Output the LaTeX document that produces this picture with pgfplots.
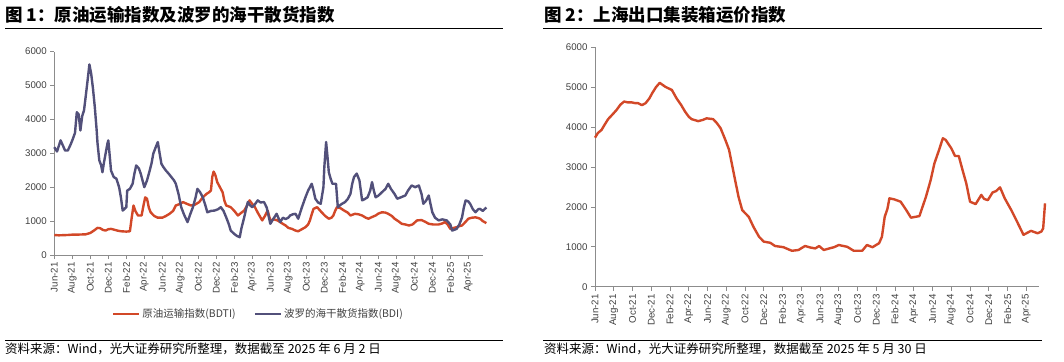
\documentclass[border=0pt]{standalone}
\usepackage{pgfplots}
\pgfplotsset{compat=1.18}
\usepackage{fontspec}
\setmainfont{Liberation Sans}
\newfontfamily\cjk{Noto Sans CJK SC}
\definecolor{bdti}{RGB}{210,72,40}
\definecolor{bdi}{RGB}{82,80,122}
\definecolor{axisgray}{RGB}{140,140,140}
\definecolor{txt}{RGB}{64,64,64}
\pgfplotsset{
  common/.style={
    scale only axis, anchor=south west,
    xmin=0, ymin=0, ymax=6000,
    axis lines=left,
    axis line style={-, draw=axisgray, line width=0.9pt},
    tick style={draw=axisgray, line width=0.8pt},
    tick align=outside, major tick length=4pt,
    ytick={0,1000,...,6000},
    xtick={0,2,...,46},
    xticklabels={Jun-21,Aug-21,Oct-21,Dec-21,Feb-22,Apr-22,Jun-22,Aug-22,Oct-22,Dec-22,Feb-23,Apr-23,Jun-23,Aug-23,Oct-23,Dec-23,Feb-24,Apr-24,Jun-24,Aug-24,Oct-24,Dec-24,Feb-25,Apr-25},
    xticklabel style={rotate=90, anchor=east, font=\fontsize{9.7}{10}\selectfont, text=txt},
    yticklabel style={font=\fontsize{9.7}{10}\selectfont, text=txt},
    /pgf/number format/1000 sep={},
    /pgf/number format/assume math mode=true,
    enlargelimits=false,
    clip=false,
  }
}
\begin{document}
\begin{tikzpicture}[x=1pt,y=1pt]
\useasboundingbox (0,0) rectangle (1064,361);
% titles and rules
\node[anchor=west, inner sep=0] at (5,346) {\cjk\bfseries\fontsize{17.5}{19}\selectfont 图 1：原油运输指数及波罗的海干散货指数};
\draw[line width=1pt] (5,332.7) -- (503,332.7);
\node[anchor=west, inner sep=0] at (544,346) {\cjk\bfseries\fontsize{17.5}{19}\selectfont 图 2：上海出口集装箱运价指数};
\draw[line width=1pt] (543,332.7) -- (1042,332.7);
\draw[line width=0.9pt] (5,21) -- (503,21);
\draw[line width=0.9pt] (543,20.3) -- (1042,20.3);
\node[anchor=west, inner sep=0] at (5,12.5) {\cjk\fontsize{12.5}{14}\selectfont 资料来源：Wind，光大证券研究所整理，数据截至 2025 年 6 月 2 日};
\node[anchor=west, inner sep=0] at (544,12.5) {\cjk\fontsize{12.5}{14}\selectfont 资料来源：Wind，光大证券研究所整理，数据截至 2025 年 5 月 30 日};

\begin{axis}[common,
  at={(54.3pt,106pt)}, width=428.7pt, height=203.5pt, xmax=47.63,
  legend columns=2,
  legend style={at={(0.476,-0.29)}, anchor=center, draw=none, fill=none,
    font={\cjk\fontsize{10.5}{12}\selectfont}, text=txt,
    /tikz/every even column/.append style={column sep=16pt}},
  legend image code/.code={\draw[#1] (0pt,0pt)--(26pt,0pt);},
]
\addplot[bdti, line width=2.4pt, line join=round] coordinates {
(0,590) (0.5,580) (1,585) (1.5,590) (2,600) (2.5,600) (3,605) (3.5,610) (4,650) (4.4,720) (4.8,800) (5.1,790) (5.4,740) (5.7,720) (6,760) (6.3,770) (6.6,750) (7,720) (7.4,700) (8,690) (8.4,700) (8.6,1100) (8.8,1460) (9,1300) (9.3,1165) (9.7,1165) (9.9,1450) (10.1,1700) (10.3,1660) (10.5,1400) (10.7,1260) (11.1,1150) (11.5,1100) (12,1100) (12.4,1150) (12.8,1215) (13.2,1300) (13.5,1460) (13.9,1500) (14.3,1560) (14.8,1500) (15.2,1460) (15.6,1480) (16.1,1560) (16.5,1700) (16.9,1800) (17.2,1850) (17.4,1900) (17.55,2300) (17.7,2460) (17.9,2350) (18.1,2150) (18.4,2000) (18.7,1850) (18.9,1600) (19.1,1460) (19.6,1410) (20,1300) (20.4,1165) (20.8,1250) (21.1,1310) (21.4,1450) (21.7,1610) (22,1500) (22.2,1460) (22.6,1250) (23.1,1020) (23.4,1150) (23.7,1310) (24,1020) (24.4,1050) (24.8,1020) (25.2,950) (25.7,870) (26,800) (26.4,770) (26.8,720) (27.1,700) (27.5,760) (27.9,820) (28.2,900) (28.4,1020) (28.6,1200) (28.8,1360) (29.2,1410) (29.4,1350) (29.7,1260) (30.1,1150) (30.5,1070) (30.8,1100) (31,1165) (31.2,1300) (31.4,1410) (31.8,1380) (32.2,1310) (32.6,1250) (32.9,1165) (33.4,1215) (33.8,1200) (34.2,1165) (34.6,1100) (34.9,1070) (35.3,1120) (35.7,1165) (36,1220) (36.4,1260) (36.8,1250) (37.1,1215) (37.5,1150) (37.8,1070) (38.2,1000) (38.6,920) (39,900) (39.4,870) (39.8,900) (40.3,1020) (40.8,1030) (41.2,980) (41.6,920) (42.1,900) (42.7,900) (43.1,930) (43.4,970) (43.7,900) (44,770) (44.4,800) (44.7,820) (45,850) (45.3,870) (45.7,980) (46,1070) (46.4,1100) (46.8,1110) (47.1,1090) (47.3,1070) (47.6,1000) (48,940)
};
\addlegendentry{原油运输指数(BDTI)}
\addplot[bdi, line width=2.4pt, line join=round] coordinates {
(0,3180) (0.3,3050) (0.7,3380) (1,3200) (1.2,3080) (1.5,3080) (1.8,3250) (2,3380) (2.3,3600) (2.5,4210) (2.7,4150) (2.9,3670) (3.1,4100) (3.3,4260) (3.5,4700) (3.7,5150) (3.9,5620) (4.1,5340) (4.3,4900) (4.5,4360) (4.7,3700) (4.8,3300) (5,2790) (5.2,2650) (5.35,2440) (5.5,2700) (5.7,2990) (5.9,3280) (6,3380) (6.15,2950) (6.3,2490) (6.6,2300) (6.9,2250) (7.2,2000) (7.4,1700) (7.6,1310) (8,1410) (8.1,1900) (8.4,1950) (8.7,2100) (8.9,2400) (9.1,2640) (9.4,2550) (9.6,2400) (10,2000) (10.3,2200) (10.6,2490) (10.8,2700) (11,2990) (11.3,3200) (11.5,3330) (11.7,3000) (11.9,2690) (12.1,2600) (12.4,2490) (12.7,2400) (13,2300) (13.3,2200) (13.5,2100) (13.8,1800) (14.1,1410) (14.4,1200) (14.8,970) (15.1,1200) (15.4,1410) (15.7,1700) (15.9,1950) (16.2,1850) (16.5,1700) (16.8,1450) (17,1260) (17.4,1300) (17.8,1310) (18.2,1350) (18.5,1410) (18.8,1300) (19.1,1110) (19.4,900) (19.6,720) (20,620) (20.3,560) (20.6,525) (20.8,800) (21.1,1110) (21.3,1350) (21.5,1560) (21.8,1450) (22,1410) (22.3,1500) (22.6,1610) (22.9,1550) (23.3,1560) (23.6,1400) (24,920) (24.3,1050) (24.7,1215) (25.1,970) (25.4,1100) (25.7,1060) (26,1100) (26.2,1165) (26.5,1200) (26.8,1215) (27.1,1070) (27.5,1400) (27.9,1700) (28.2,1900) (28.6,2100) (28.8,1900) (29,1660) (29.3,1550) (29.6,1510) (29.9,2000) (30,2590) (30.2,3330) (30.35,2900) (30.5,2440) (30.7,2250) (30.9,2100) (31.3,2100) (31.5,1410) (31.9,1500) (32.3,1560) (32.6,1650) (32.9,1800) (33.1,2100) (33.3,2300) (33.6,2400) (33.9,2200) (34.2,1610) (34.5,1650) (34.8,1700) (35.1,1900) (35.3,2150) (35.5,1900) (35.7,1700) (36,1750) (36.4,1850) (36.8,1950) (37.1,2100) (37.4,1950) (37.8,1800) (38.1,1660) (38.5,1700) (39,1755) (39.3,1900) (39.7,2050) (40.1,2000) (40.5,2050) (40.8,1800) (41,1510) (41.3,1600) (41.6,1755) (41.8,1500) (42,1260) (42.3,1100) (42.7,1020) (43.1,1050) (43.6,1020) (44,900) (44.2,720) (44.5,750) (44.7,770) (45,900) (45.3,1110) (45.5,1400) (45.7,1610) (46,1580) (46.2,1510) (46.5,1350) (46.8,1260) (47.1,1350) (47.3,1360) (47.6,1300) (48,1400)
};
\addlegendentry{波罗的海干散货指数(BDI)}
\end{axis}

\begin{axis}[common,
  at={(595pt,74.3pt)}, width=444.4pt, height=239.4pt, xmax=47.4,
]
\addplot[bdti, line width=2.4pt, line join=round] coordinates {
(0,3735) (0.3,3850) (0.7,3930) (1,4050) (1.4,4200) (1.8,4300) (2.3,4430) (2.7,4560) (3.1,4640) (3.5,4620) (3.9,4620) (4.3,4600) (4.6,4600) (5,4550) (5.4,4600) (5.8,4720) (6.1,4850) (6.5,5000) (6.9,5110) (7.2,5060) (7.5,5010) (8.2,4930) (8.7,4720) (9.2,4550) (9.6,4390) (10,4260) (10.3,4200) (11,4150) (11.5,4180) (11.9,4220) (12.6,4200) (13,4100) (13.4,3970) (13.9,3680) (14.3,3430) (14.8,2840) (15.3,2260) (15.7,1920) (16.4,1750) (16.9,1500) (17.5,1250) (18,1130) (18.7,1100) (19.2,1020) (20.1,990) (21,900) (21.7,920) (22.4,1020) (23,980) (23.5,960) (23.9,1020) (24.4,920) (25,960) (25.5,990) (26,1045) (26.9,1000) (27.6,900) (28.5,900) (29,1045) (29.6,990) (30.3,1090) (30.6,1250) (30.9,1750) (31.2,1960) (31.4,2215) (31.9,2190) (32.6,2130) (33.2,1920) (33.7,1730) (34.6,1770) (35.3,2255) (35.8,2670) (36.2,3090) (36.7,3430) (37.1,3720) (37.4,3680) (38,3470) (38.4,3275) (38.8,3275) (39.2,2925) (39.6,2590) (40,2130) (40.6,2070) (41.2,2300) (41.5,2200) (41.9,2170) (42.4,2360) (42.8,2400) (43.2,2490) (43.7,2215) (44.4,1920) (45.1,1590) (45.7,1300) (46.5,1400) (47.2,1340) (47.6,1380) (47.8,1460) (48,2090)
};
\end{axis}
\end{tikzpicture}
\end{document}
